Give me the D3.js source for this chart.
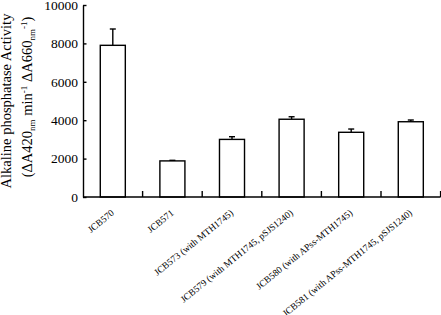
<!DOCTYPE html>
<html>
<head>
<meta charset="utf-8">
<title>Alkaline phosphatase activity</title>
<script src="https://cdn.jsdelivr.net/npm/d3@7"></script>
<style>
  body { margin: 0; background: #fff; }
  svg { display: block; font-family: "Liberation Serif", "Times New Roman", serif; }
</style>
</head>
<body>
<script>
  // data
  const strains = [
    'JCB570',
    'JCB571',
    'JCB573 (with MTH1745)',
    'JCB579 (with MTH1745, pSJS1240)',
    'JCB580 (with APss-MTH1745)',
    'JCB581 (with APss-MTH1745, pSJS1240)'
  ];
  const activity = [7900, 1880, 3000, 4050, 3370, 3920];
  const errUp = [850, 30, 140, 130, 170, 90];
  const yTicks = [0, 2000, 4000, 6000, 8000, 10000];

  // plot box (note: "top" is a reserved window prop, so use plot* names)
  const width = 441,
    height = 315,
    plotLeft = 83,
    plotRight = 440.6,
    plotTop = 5,
    plotBottom = 197;

  const svg = d3.select('body').append('svg')
    .attr('width', width)
    .attr('height', height);

  const x = d3.scaleBand()
    .domain(strains)
    .range([plotLeft, plotRight])
    .paddingInner(0.58)
    .paddingOuter(0.29);

  const y = d3.scaleLinear()
    .domain([0, 10000])
    .range([plotBottom, plotTop]);

  // bars
  svg.append('g').selectAll('rect')
    .data(strains)
    .join('rect')
    .attr('x', d => x(d))
    .attr('y', (d, i) => y(activity[i]))
    .attr('width', x.bandwidth())
    .attr('height', (d, i) => y(0) - y(activity[i]))
    .attr('fill', '#fff')
    .attr('stroke', '#000')
    .attr('stroke-width', 1.4);

  // error bars (upper only)
  const eb = svg.append('g').attr('stroke', '#000').attr('stroke-width', 1.4);
  strains.forEach((d, i) => {
    const cx = x(d) + x.bandwidth() / 2;
    eb.append('line')
      .attr('x1', cx).attr('x2', cx)
      .attr('y1', y(activity[i])).attr('y2', y(activity[i] + errUp[i]));
    eb.append('line')
      .attr('x1', cx - 3).attr('x2', cx + 3)
      .attr('y1', y(activity[i] + errUp[i])).attr('y2', y(activity[i] + errUp[i]));
  });

  // y axis
  const yAxis = d3.axisLeft(y)
    .tickValues(yTicks)
    .tickFormat(d3.format('d'))
    .tickSizeInner(-3.5)
    .tickSizeOuter(0)
    .tickPadding(5);

  const gy = svg.append('g')
    .attr('transform', 'translate(' + plotLeft + ',0)')
    .call(yAxis);
  gy.select('.domain').attr('stroke-width', 1.4);
  gy.selectAll('.tick line').attr('stroke-width', 1.4);
  gy.selectAll('.tick text')
    .attr('font-family', '"Liberation Serif", "Times New Roman", serif')
    .attr('font-size', 13.5)
    .attr('fill', '#000');

  // x axis: baseline plus small upward ticks at category boundaries
  const gx = svg.append('g').attr('stroke', '#000').attr('stroke-width', 1.4);
  gx.append('line')
    .attr('x1', plotLeft).attr('x2', plotRight)
    .attr('y1', y(0)).attr('y2', y(0));
  strains.forEach((d, i) => {
    const bx = x(d) + x.bandwidth() / 2 + x.step() / 2;
    gx.append('line')
      .attr('x1', bx).attr('x2', bx)
      .attr('y1', y(0)).attr('y2', y(0) - 6);
  });

  // category labels, slanted
  svg.append('g').selectAll('text')
    .data(strains)
    .join('text')
    .attr('transform', d => 'translate(' + (x(d) + x.bandwidth() / 2 + 2) + ',' + (plotBottom + 17) + ') rotate(-39)')
    .attr('text-anchor', 'end')
    .attr('font-size', 9.5)
    .text(d => d);

  // y axis title, two lines
  svg.append('text')
    .attr('transform', 'translate(11,' + ((plotTop + plotBottom) / 2) + ') rotate(-90)')
    .attr('text-anchor', 'middle')
    .attr('font-size', 14.5)
    .text('Alkaline phosphatase Activity');

  const t2 = svg.append('text')
    .attr('transform', 'translate(32,' + ((plotTop + plotBottom) / 2 - 4) + ') rotate(-90)')
    .attr('text-anchor', 'middle')
    .attr('font-size', 14.5);
  const parts = [
    ['(\u0394A420', 0],
    ['nm', -1],
    [' min', 0],
    ['-1', 1],
    [' \u0394A660', 0],
    ['nm', -1],
    ['-1', 1],
    [')', 0]
  ];
  parts.forEach(p => {
    const ts = t2.append('tspan').text(p[0]);
    if (p[1] !== 0) {
      ts.attr('font-size', 9).attr('baseline-shift', p[1] > 0 ? '5' : '-3');
    }
  });
</script>
</body>
</html>
